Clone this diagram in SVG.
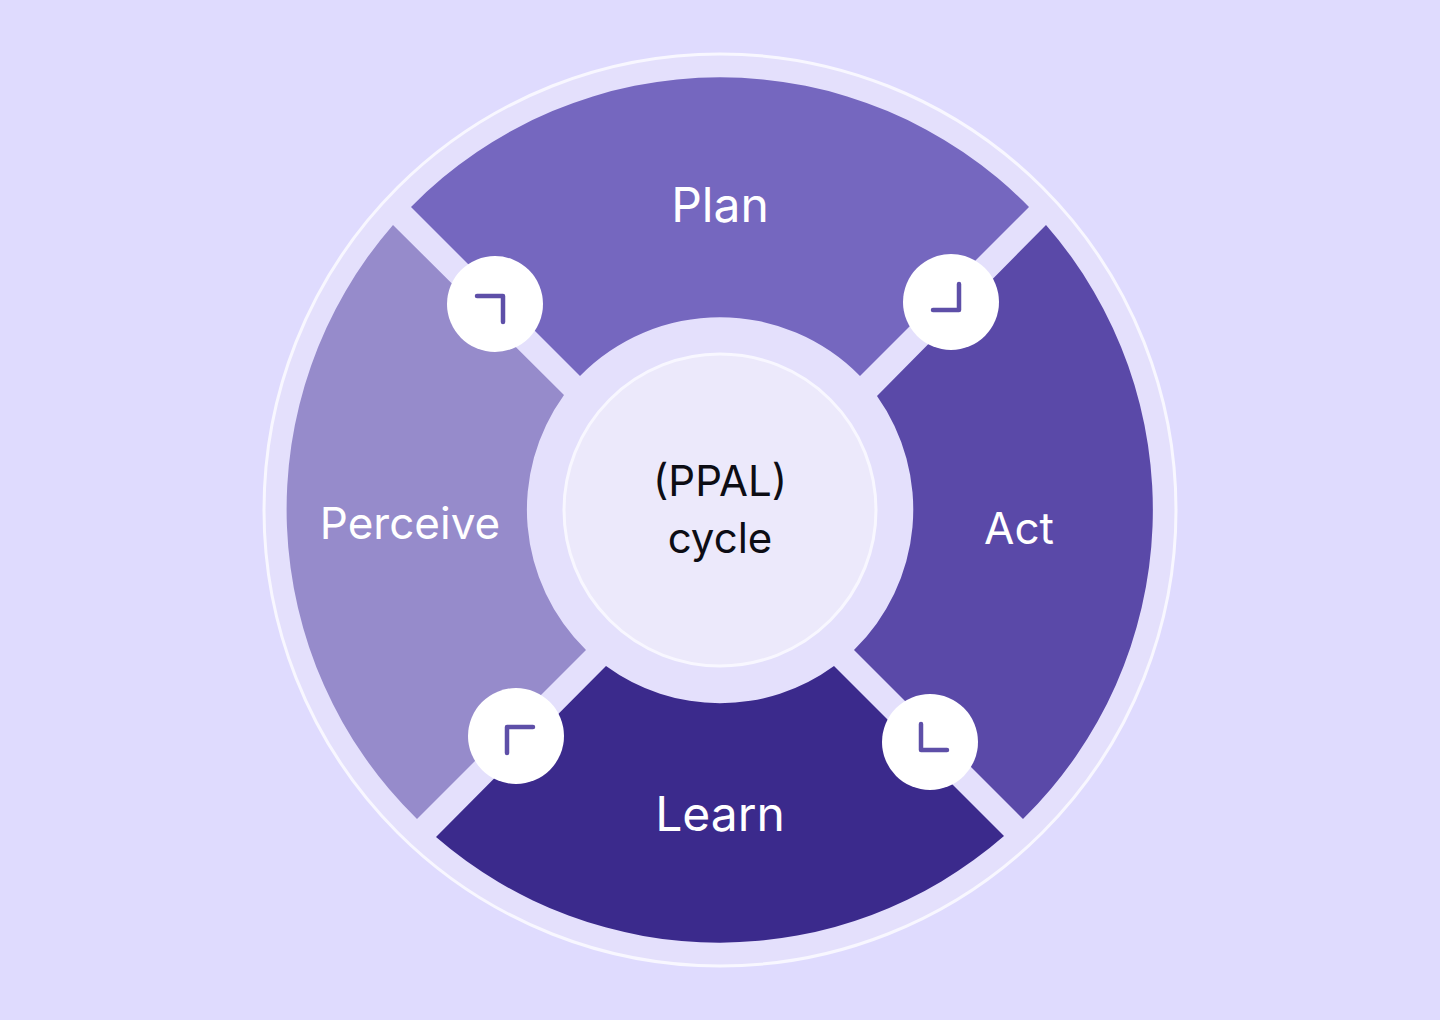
<svg xmlns="http://www.w3.org/2000/svg" width="1440" height="1020" viewBox="0 0 1440 1020">
<style>
.seg{stroke:none}
.lbl{font-family:Inter,"Liberation Sans",sans-serif;font-size:44px;fill:#fff;text-anchor:middle}
.big{font-size:48px}
.ctr{font-family:Inter,"Liberation Sans",sans-serif;font-size:42px;fill:#0d0d14;text-anchor:middle}
.btn{fill:#fff}
.chev{fill:none;stroke:#5e4fa8;stroke-width:4.5;stroke-linecap:round;stroke-linejoin:round}
</style>
<rect width="1440" height="1020" fill="#dfdbfe"/>
<circle id="ring" cx="720" cy="510" r="456" fill="#e4e0fc" stroke="#f8f7ff" stroke-width="3"/>
<g id="plan"><path class="seg" fill="#7567bf" d="M411,207A433,433 0 0 1 1029,207L860,376A196,196 0 0 0 580,376Z"/><text class="lbl big" x="720" y="222">Plan</text></g>
<g id="act"><path class="seg" fill="#5a49a8" d="M1046,225A433,433 0 0 1 1023,819L854,650A196,196 0 0 0 877,396Z"/><text class="lbl" x="1019" y="544">Act</text></g>
<g id="learn"><path class="seg" fill="#3b2a8c" d="M1004,836A433,433 0 0 1 436,837L606,666A193,193 0 0 0 834,666Z"/><text class="lbl big" x="720" y="831">Learn</text></g>
<g id="perceive"><path class="seg" fill="#968bcb" d="M417,819A433,433 0 0 1 393,225L564,395A196,196 0 0 0 586,650Z"/><text class="lbl" x="410" y="539">Perceive</text></g>
<g id="center"><circle cx="720" cy="510" r="156" fill="#ece9fb" stroke="#f8f7ff" stroke-width="3"/><text class="ctr" x="720" y="496">(PPAL)</text><text class="ctr" x="720" y="553">cycle</text></g>
<g id="connectors">
<g id="c1"><circle class="btn" cx="495" cy="304" r="48"/><path class="chev" d="M477,296H503V322"/></g>
<g id="c2"><circle class="btn" cx="951" cy="302" r="48"/><path class="chev" d="M959,284V310H933"/></g>
<g id="c3"><circle class="btn" cx="930" cy="742" r="48"/><path class="chev" d="M921,724V750H947"/></g>
<g id="c4"><circle class="btn" cx="516" cy="736" r="48"/><path class="chev" d="M533,727H507V753"/></g>
</g>
</svg>
